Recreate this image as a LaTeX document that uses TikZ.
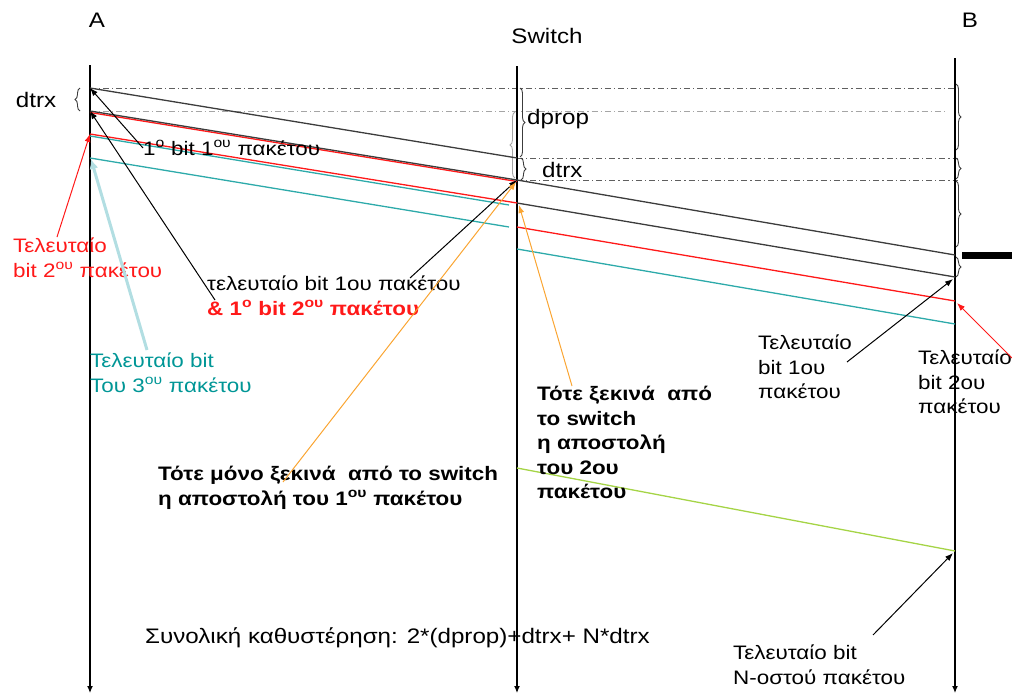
\documentclass[tikz,border=0pt]{standalone}
\usepackage{fontspec}
\setmainfont{Liberation Sans}[FakeStretch=1.15]
\usetikzlibrary{arrows, arrows.meta, positioning, decorations.pathreplacing}

\definecolor{pkred}{RGB}{255,25,25}
\definecolor{pkteal}{RGB}{45,170,170}
\definecolor{txteal}{RGB}{0,150,150}
\definecolor{pkcyan}{RGB}{178,222,226}
\definecolor{pkorange}{RGB}{250,165,50}
\definecolor{pkgreen}{RGB}{165,212,70}
\definecolor{dashgray}{RGB}{95,95,95}
\definecolor{palegray}{RGB}{165,165,165}
\definecolor{pkdark}{RGB}{60,60,60}

\tikzstyle{tline} = [draw, line width=1.2pt, -{Latex[length=7pt,width=6pt]}]
\tikzstyle{pline} = [draw, line width=1.3pt, pkdark]
\tikzstyle{dline} = [draw, line width=0.9pt, dashgray, dash pattern=on 6pt off 3pt on 1.2pt off 3pt]
\tikzstyle{brc} = [draw, line width=0.9pt, pkdark, decorate, decoration={brace, amplitude=5pt}]
\tikzstyle{note} = [draw, line width=1pt, -{Latex[length=8pt,width=6pt]}]
\tikzstyle{big} = [inner sep=0pt, font=\fontsize{21}{25}\selectfont]
\tikzstyle{lbl} = [inner sep=0pt, align=left, font=\fontsize{19.5}{24.5}\selectfont]
\tikzstyle{lblb} = [inner sep=0pt, align=left, font=\fontsize{19.5}{24.5}\selectfont\bfseries]

\begin{document}
\begin{tikzpicture}[x=1pt, y=-1pt]
\useasboundingbox (0,0) rectangle (1012,696);

% the three time axes
\coordinate (Atop) at (90,65);
\coordinate (Abot) at (90,693);
\coordinate (Stop) at (517,66);
\coordinate (Sbot) at (517,693);
\coordinate (Btop) at (955,58);
\coordinate (Bbot) at (955,693);
\node [big] (A) at (97,20) {A};
\node [big] (S) at (547,36) {Switch};
\node [big] (B) at (970,20) {B};

% instants on A
\coordinate (a1) at (90,88);
\coordinate (a2) at (90,111);
\coordinate (a2r) at (90,112.5);
\coordinate (a3) at (90,134);
\coordinate (a3t) at (90,136);
\coordinate (a4) at (90,158);
% instants on the switch
\coordinate (s1) at (517,158);
\coordinate (s2) at (517,180);
\coordinate (s2r) at (517,181.5);
\coordinate (s3) at (517,203);
\coordinate (t3) at (509,205);
\coordinate (s4) at (517,227);
\coordinate (t4) at (509,227);
\coordinate (s5) at (517,249);
\coordinate (s6) at (517,468);
% instants on B
\coordinate (b0) at (955,88);
\coordinate (g1) at (947,111);
\coordinate (r1) at (958,158);
\coordinate (r2) at (958,180);
\coordinate (b1) at (955,255);
\coordinate (b2) at (955,277);
\coordinate (b3) at (955,301);
\coordinate (b4) at (955,324);
\coordinate (b5) at (955,551);

% dash-dot guides
\path [dline] (a1) -- (b0);
\path [dline, palegray] (a2) -- (g1);
\path [dline] (s1) -- (r1);
\path [dline] (s2) -- (r2);

% braces
\path [brc] (80,111) -- (80,88);
\path [brc, palegray] (515,178) -- (515,112);
\path [brc] (520,88) -- (520,157);
\path [brc] (521,158) -- (521,180);
\path [brc] (956,84) -- (956,150);
\path [brc] (956,158) -- (956,179);
\path [brc] (956,181) -- (956,247);
\path [brc] (956,257) -- (956,277);
\fill (962,252) rectangle (1012,259);

% axes
\path [tline] (Atop) -- (Abot);
\path [tline] (Stop) -- (Sbot);
\path [tline] (Btop) -- (Bbot);

% packets A -> switch
\path [pline] (a1) -- (s1);
\path [pline, pkred] (a2r) -- (s2r);
\path [pline] (a2) -- (s2);
\path [pline, pkred] (a3) -- (s3);
\path [pline, pkteal] (a3t) -- (t3);
\path [pline, pkteal] (a4) -- (t4);
% packets switch -> B
\path [pline] (s2) -- (b1);
\path [pline] (s3) -- (b2);
\path [pline, pkred] (s4) -- (b3);
\path [pline, pkteal] (s5) -- (b4);
\path [pline, pkgreen] (s6) -- (b5);

% labels
\node [big] (dtrxA) at (36,100) {dtrx};
\node [big, anchor=west] (dprop) at (527,119) {dprop};
\node [big, anchor=west] (dtrxS) at (542,170) {dtrx};
\node [lbl, anchor=west] (bit1) at (143,148) {1\textsuperscript{ο} bit 1\textsuperscript{ου} πακέτου};
\node [lbl, anchor=north west, text=pkred] (last2) at (13,238) {Τελευταίο\\bit 2\textsuperscript{ου} πακέτου};
\node [lbl, anchor=north west] (last1) at (207,276) {τελευταίο bit 1ου πακέτου\\\textcolor{pkred}{\bfseries \& 1\textsuperscript{ο} bit 2\textsuperscript{ου} πακέτου}};
\node [lbl, anchor=north west, text=txteal] (last3) at (90,353) {Τελευταίο bit\\Του 3\textsuperscript{ου} πακέτου};
\node [lblb, anchor=north west] (start1) at (158,466) {Τότε μόνο ξεκινά \ από το switch\\η αποστολή του 1\textsuperscript{ου} πακέτου};
\node [lblb, anchor=north west] (start2) at (537,386) {Τότε ξεκινά \ από\\το switch\\η αποστολή\\του 2ου\\πακέτου};
\node [lbl, anchor=north west] (arrB1) at (758,335) {Τελευταίο\\bit 1ου\\πακέτου};
\node [lbl, anchor=north west] (arrB2) at (918,350) {Τελευταίο\\bit 2ου\\πακέτου};
\node [big, anchor=west] (total) at (145,638) {Συνολική καθυστέρηση: 2*(dprop)+dtrx+ N*dtrx};
\node [lbl, anchor=north west] (lastN) at (733,645) {Τελευταίο bit\\Ν-οστού πακέτου};

% pointers
\coordinate (e2) at (215,300);
\coordinate (e3) at (410,278);
\coordinate (e4) at (283,482);
\coordinate (e5) at (572,386);
\coordinate (e6) at (57,237);
\coordinate (e7) at (147,350);
\coordinate (e8) at (847,362);
\coordinate (e9) at (1012,358);
\coordinate (e10) at (873,635);
\path [note] (bit1.west) -- (a1);
\path [note] (e2) -- (a2);
\path [note] (e3) -- (s2);
\path [note, pkorange] (e4) -- (516,182);
\path [note, pkorange] (e5) -- (519,205);
\path [note, pkred] (e6) -- (a3);
\path [note, pkcyan, line width=3pt, -{Latex[length=10pt,width=9pt]}] (e7) -- (91,159);
\path [note] (e8) -- (953,279);
\path [note, pkred] (e9) -- (957,303);
\path [note] (e10) -- (953,553);
\end{tikzpicture}
\end{document}
